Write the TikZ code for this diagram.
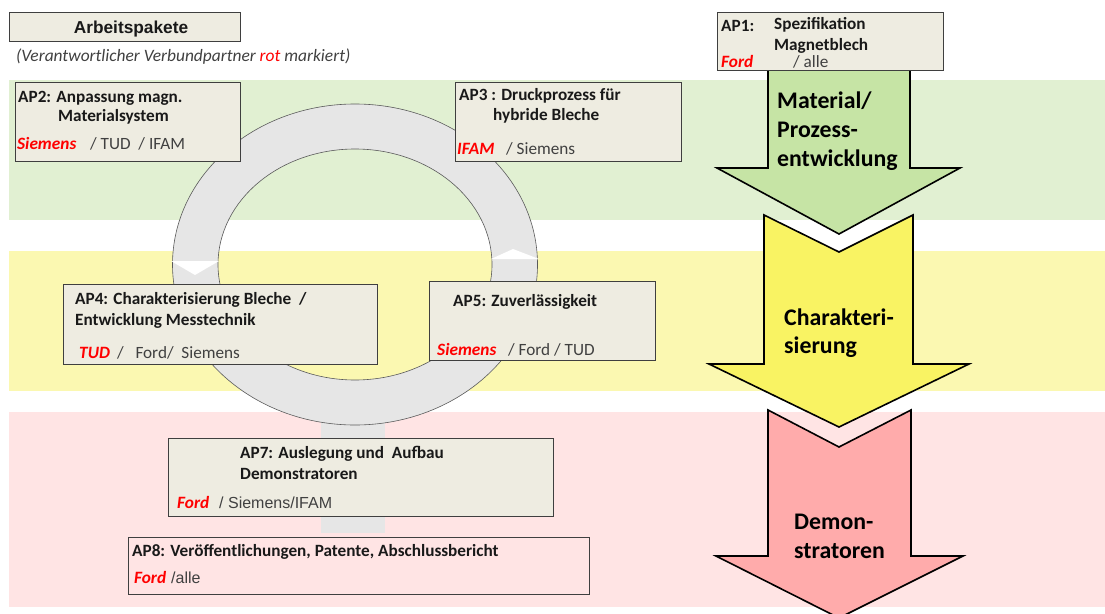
\documentclass[tikz,border=0pt]{standalone}
\usepackage{fontspec}
\setmainfont{Carlito}
\newfontfamily\arialfont{Liberation Sans}
\usepackage{tikz}
\usetikzlibrary{positioning,calc}
\definecolor{boxcolor}{HTML}{EEECE1}
\definecolor{boxborder}{HTML}{3F3F3F}
\definecolor{partnergray}{HTML}{404040}
\definecolor{greenband}{HTML}{E1F0D2}
\definecolor{yellowband}{HTML}{FBF8B1}
\definecolor{pinkband}{HTML}{FFE4E4}
\definecolor{greenarrow}{HTML}{C6E4A5}
\definecolor{yellowarrow}{HTML}{F9F363}
\definecolor{pinkarrow}{HTML}{FFABAB}
\definecolor{ringgray}{HTML}{E6E6E6}
\definecolor{ringline}{HTML}{5A5A5A}

\begin{document}
\begin{tikzpicture}[
    x=1pt, y=-1pt,
    apbox/.style={draw=boxborder, fill=boxcolor, line width=0.8pt, anchor=north west, inner sep=0pt},
    aptitle/.style={anchor=base west, inner sep=0pt, font=\fontsize{17.2}{20}\selectfont\bfseries, text=black!90},
    lead/.style={anchor=base west, inner sep=0pt, font=\fontsize{17.3}{20}\selectfont\bfseries\itshape, text=red},
    partner/.style={anchor=base west, inner sep=0pt, font=\fontsize{17.2}{20}\selectfont, text=partnergray},
    bigarrow/.style={draw=black, line width=1.6pt, line join=miter},
    arrowtext/.style={anchor=base west, inner sep=0pt, font=\fontsize{23.8}{28}\selectfont\bfseries}
]
    \clip (0,0) rectangle (1105,613);

    % Phase bands
    \fill[greenband] (9,80) rectangle (1105,220);
    \fill[yellowband] (9,251) rectangle (1105,391);
    \fill[pinkband] (9,412) rectangle (1105,607);

    % Cycle ring with stem
    \fill[ringgray] (321,415) rectangle (385,533);
    \fill[ringgray, even odd rule] (355,264.5) ellipse [x radius=182.5, y radius=160.5]
        (355,264.5) ellipse [x radius=137, y radius=115.5];
    \draw[ringline, line width=0.6pt] (355,264.5) ellipse [x radius=182.5, y radius=160.5];
    \draw[ringline, line width=0.6pt] (355,264.5) ellipse [x radius=137, y radius=115.5];
    \fill[white] (171,261) -- (219,261) -- (195,275) -- cycle;
    \fill[white] (491,259) -- (539,259) -- (513,249) -- cycle;

    % Header
    \node[apbox, minimum width=231pt, minimum height=29pt] (head) at (9,12) {};
    \node[anchor=base, inner sep=0pt, font=\fontsize{17.3}{20}\selectfont\arialfont\bfseries, text=black!90] (headtext) at (131,33) {Arbeitspakete};
    \node[anchor=base west, inner sep=0pt, font=\fontsize{17.4}{20}\selectfont\itshape, text=partnergray] (legend) at (16,61)
        {(Verantwortlicher Verbundpartner \textcolor{red}{rot} markiert)};

    % Phase arrows
    \draw[bigarrow, fill=greenarrow] (768,60) -- (768,168) -- (717,168) -- (839,234)
        -- (960,168) -- (910,168) -- (910,60) -- cycle;
    \draw[bigarrow, fill=yellowarrow] (764,215) -- (839,252) -- (913,215) -- (913,364)
        -- (969,364) -- (839,427) -- (709,364) -- (764,364) -- cycle;
    \draw[bigarrow, fill=pinkarrow] (768,410) -- (839,447) -- (911,410) -- (911,556)
        -- (963,556) -- (839,618) -- (716,556) -- (768,556) -- cycle;
    \node[arrowtext] (matA) at (777,108) {Material/};
    \node[arrowtext] (matB) at (777,137) {Prozess-};
    \node[arrowtext] (matC) at (777,166) {entwicklung};
    \node[arrowtext] (charA) at (784,325) {Charakteri-};
    \node[arrowtext] (charB) at (784,353) {sierung};
    \node[arrowtext] (demoA) at (794,529) {Demon-};
    \node[arrowtext] (demoB) at (794,558) {stratoren};

    % AP1
    \node[apbox, minimum width=226pt, minimum height=58pt] (ap1) at (717,12) {};
    \node[aptitle] (ap1no) at (721,31) {AP1:};
    \node[aptitle] (ap1a) at (774,29) {Spezifikation};
    \node[aptitle] (ap1b) at (774,50) {Magnetblech};
    \node[lead] (ap1lead) at (721,67) {Ford};
    \node[partner] (ap1rest) at (793,67) {/ alle};

    % AP2
    \node[apbox, minimum width=225pt, minimum height=79pt] (ap2) at (15,82) {};
    \node[aptitle] (ap2a) at (18,102) {AP2: Anpassung magn.};
    \node[aptitle] (ap2b) at (58,121) {Materialsystem};
    \node[lead] (ap2lead) at (17,149) {Siemens};
    \node[partner] (ap2rest) at (90,149) {/ TUD\ \ / IFAM};

    % AP3
    \node[apbox, minimum width=226pt, minimum height=79pt] (ap3) at (455,82) {};
    \node[aptitle] (ap3a) at (459,100) {AP3 : Druckprozess für};
    \node[aptitle] (ap3b) at (493,120) {hybride Bleche};
    \node[lead] (ap3lead) at (457,154) {IFAM};
    \node[partner] (ap3rest) at (506,154) {/ Siemens};

    % AP4
    \node[apbox, minimum width=314pt, minimum height=80pt] (ap4) at (63,284) {};
    \node[aptitle] (ap4a) at (75,304) {AP4: Charakterisierung Bleche\ \ /};
    \node[aptitle] (ap4b) at (75,325) {Entwicklung Messtechnik};
    \node[lead] (ap4lead) at (79,358) {TUD};
    \node[partner] (ap4rest) at (117,358) {/\ \ \ Ford/\ \ Siemens};

    % AP5
    \node[apbox, minimum width=226pt, minimum height=79pt] (ap5) at (429,281) {};
    \node[aptitle] (ap5a) at (453,306) {AP5: Zuverlässigkeit};
    \node[lead] (ap5lead) at (437,355) {Siemens};
    \node[partner] (ap5rest) at (508,355) {/ Ford / TUD};

    % AP7
    \node[apbox, minimum width=385pt, minimum height=78pt] (ap7) at (168,438) {};
    \node[aptitle] (ap7a) at (240,458) {AP7: Auslegung und\ \ Aufbau};
    \node[aptitle] (ap7b) at (240,479) {Demonstratoren};
    \node[lead] (ap7lead) at (177,508) {Ford};
    \node[partner, font=\fontsize{16}{19}\selectfont\arialfont] (ap7rest) at (219,508) {/ Siemens/IFAM};

    % AP8
    \node[apbox, fill=none, minimum width=461pt, minimum height=57pt] (ap8) at (128,537) {};
    \node[aptitle] (ap8a) at (132,556) {AP8: Veröffentlichungen, Patente, Abschlussbericht};
    \node[lead] (ap8lead) at (134,583) {Ford};
    \node[partner, font=\fontsize{16}{19}\selectfont\arialfont] (ap8rest) at (171,583) {/alle};
\end{tikzpicture}
\end{document}
